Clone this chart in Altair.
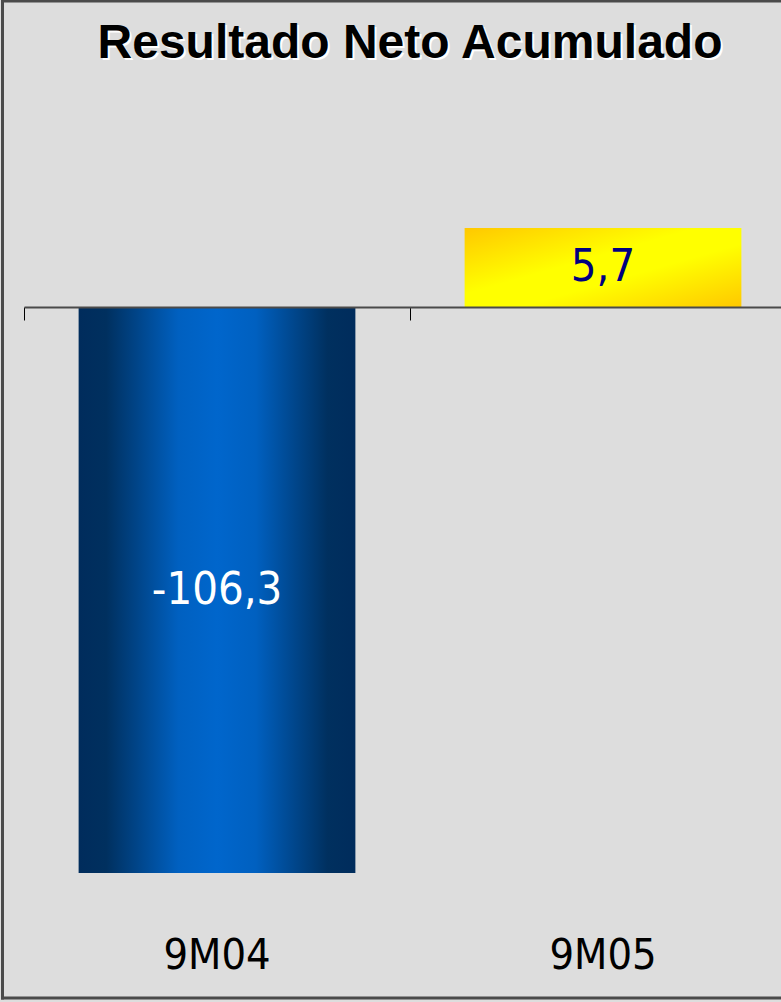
import altair as alt
import pandas as pd

categories = ["9M04", "9M05"]
values = [-106.3, 5.7]
value_labels = ["-106,3", "5,7"]
title_text = "Resultado Neto Acumulado"

df = pd.DataFrame({"cat": categories, "val": values, "lab": value_labels})

W, H = 781, 1002
C = 18.85

x_enc = alt.X(
    "cat:N",
    sort=categories,
    scale=alt.Scale(range=[24, 796], paddingInner=0.283, paddingOuter=0.1415),
    axis=alt.Axis(
        title=None, labels=False, orient="bottom", offset=-695,
        bandPosition=-0.1973, tickSize=13, tickColor="#000000", tickWidth=1,
        domainColor="#4a4a4a", domainWidth=2, zindex=1, grid=False,
    ),
)
y_scale = alt.Scale(type="symlog", constant=C, domain=[-106.3, 5.7], range=[873, 228], nice=False, zero=False)
y_enc = alt.Y("val:Q", scale=y_scale, axis=None)

blue = alt.Gradient(
    gradient="linear", x1=0, y1=0, x2=1, y2=0,
    stops=[
        alt.GradientStop(offset=0, color="#002c5c"),
        alt.GradientStop(offset=0.1, color="#00305f"),
        alt.GradientStop(offset=0.36, color="#0060c0"),
        alt.GradientStop(offset=0.5, color="#0066cc"),
        alt.GradientStop(offset=0.64, color="#0060c0"),
        alt.GradientStop(offset=0.9, color="#00305f"),
        alt.GradientStop(offset=1, color="#002c5c"),
    ],
)
yellow = alt.Gradient(
    gradient="linear", x1=0, y1=0, x2=1, y2=1,
    stops=[
        alt.GradientStop(offset=0, color="#ffc800"),
        alt.GradientStop(offset=0.42, color="#ffff00"),
        alt.GradientStop(offset=0.6, color="#ffff00"),
        alt.GradientStop(offset=1, color="#ffc800"),
    ],
)

base = alt.Chart(df)

bar_blue = base.transform_filter(alt.datum.cat == categories[0]).mark_bar(color=blue).encode(
    x=x_enc, y=y_enc, y2=alt.Y2(datum=0)
)
bar_yellow = base.transform_filter(alt.datum.cat == categories[1]).mark_bar(color=yellow).encode(
    x=x_enc, y=y_enc, y2=alt.Y2(datum=0)
)

# midpoint of each bar in the symlog scale's space
mid_expr = f"(datum.val < 0 ? -1 : 1) * {C} * (sqrt(1 + abs(datum.val) / {C}) - 1)"

lab_common = dict(font="DejaVu Sans Condensed, DejaVu Sans", fontSize=45, baseline="middle", align="center")
lab_blue = base.transform_filter(alt.datum.cat == categories[0]).transform_calculate(mid=mid_expr).mark_text(
    color="#ffffff", **lab_common
).encode(x=alt.X("cat:N", sort=categories), y=alt.Y("mid:Q"), text="lab:N")
lab_yellow = base.transform_filter(alt.datum.cat == categories[1]).transform_calculate(mid=mid_expr).mark_text(
    color="#000080", **lab_common
).encode(x=alt.X("cat:N", sort=categories), y=alt.Y("mid:Q"), text="lab:N")

cat_labels = base.mark_text(
    font="DejaVu Sans Condensed, DejaVu Sans", fontSize=43, baseline="alphabetic", align="center", color="#000000"
).encode(x=alt.X("cat:N", sort=categories), y=alt.value(969), text="cat:N")

tdata = alt.Data(values=[{"t": title_text}])
title_shadow = alt.Chart(tdata).mark_text(
    font="Liberation Sans", fontWeight="bold", fontSize=48, color="#ffffff", align="center", baseline="alphabetic"
).encode(x=alt.value(412), y=alt.value(60), text="t:N")
title_main = alt.Chart(tdata).mark_text(
    font="Liberation Sans", fontWeight="bold", fontSize=48, color="#000000", align="center", baseline="alphabetic"
).encode(x=alt.value(410), y=alt.value(58), text="t:N")

fdata = alt.Data(values=[{}])
frame_left = alt.Chart(fdata).mark_rule(stroke="#4a4a4a", strokeWidth=3).encode(
    x=alt.value(2.5), y=alt.value(0), y2=alt.value(999.5)
)
frame_top = alt.Chart(fdata).mark_rule(stroke="#4a4a4a", strokeWidth=3).encode(
    x=alt.value(1), x2=alt.value(781), y=alt.value(1)
)
frame_bottom = alt.Chart(fdata).mark_rule(stroke="#4a4a4a", strokeWidth=3).encode(
    x=alt.value(1), x2=alt.value(781), y=alt.value(998)
)

chart = alt.layer(
    bar_blue, bar_yellow, lab_blue, lab_yellow, cat_labels, title_shadow, title_main,
    frame_left, frame_top, frame_bottom
).properties(
    width=W, height=H, padding=0, autosize=alt.AutoSizeParams(type="none"), background="#dddddd"
).configure_view(stroke=None)

chart.save("out.html", embed_options={"renderer": "svg", "actions": False})
